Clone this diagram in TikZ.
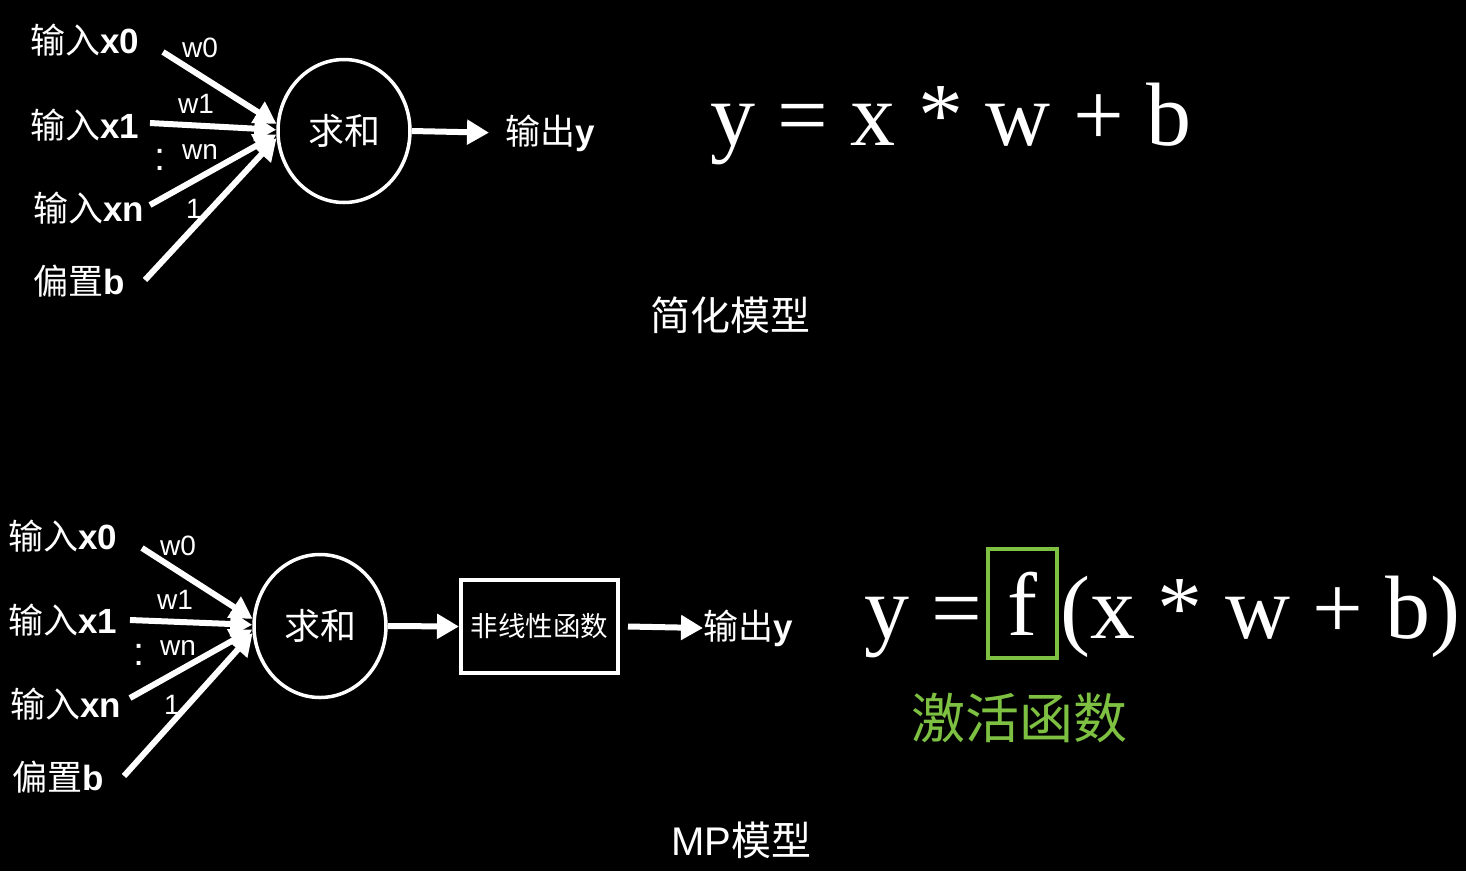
\documentclass[tikz,border=0pt]{standalone}
\usepackage{fontspec}
\setmainfont{Liberation Sans}
\newfontfamily\cjk{Noto Sans CJK SC}
\newfontfamily\tms{Liberation Serif}
\usetikzlibrary{arrows.meta,shapes.geometric}
\definecolor{actgreen}{RGB}{125,192,66}
\begin{document}
\begin{tikzpicture}[x=1pt,y=-1pt,
  lab/.style={text=white,font=\fontsize{35}{40}\selectfont,inner sep=0pt,anchor=west},
  wlab/.style={text=white,font=\fontsize{28}{34}\selectfont,inner sep=0pt},
  dotlab/.style={text=white,font=\fontsize{40}{44}\selectfont,inner sep=0pt},
  conn/.style={white,line width=6pt,-{Triangle[length=22pt,width=24pt]}},
  sumnode/.style={draw=white,line width=3.5pt,ellipse,inner sep=0pt,minimum width=132pt,minimum height=143pt,text=white,font=\cjk\fontsize{36}{40}\selectfont},
  funcbox/.style={draw=white,line width=4pt,inner sep=0pt,minimum width=157pt,minimum height=93pt,text=white,font=\cjk\fontsize{27.5}{32}\selectfont},
  formula/.style={text=white,font=\tms\fontsize{90}{100}\selectfont,inner sep=0pt,anchor=base west},
  caption/.style={text=white,font=\fontsize{40}{46}\selectfont,inner sep=0pt}]
\useasboundingbox[fill=black] (0,0) rectangle (1466,871);

% ---------- top: simplified model ----------
\node[lab] (a0) at (30,40) {{\cjk 输入}\textbf{x0}};
\node[lab] (a1) at (30,125) {{\cjk 输入}\textbf{x1}};
\node[lab] (an) at (33,208) {{\cjk 输入}\textbf{xn}};
\node[lab] (ab) at (33,281) {{\cjk 偏置}\textbf{b}};
\node[sumnode] (asum) at (344,131) {求和};
\coordinate (as0) at (163,52);
\coordinate (as1) at (150,123);
\coordinate (asn) at (150,205);
\coordinate (asb) at (145,280);
\draw[conn] (as0) -- (asum.174);
\draw[conn] (as1) -- (asum.179);
\draw[conn] (asn) -- (asum.183);
\draw[conn] (asb) -- (asum.186);
\node[wlab] (aw0) at (200,48) {w0};
\node[wlab] (aw1) at (196,104) {w1};
\node[wlab] (awn) at (200,152) {wn};
\node[wlab] (aw1b) at (194,209) {1};
\node[dotlab] (adots) at (160,160) {:};
\node[lab] (aout) at (505,133) {{\cjk 输出}\textbf{y}};
\draw[conn,shorten >=16pt] (asum.east) -- (aout.west);
\node[formula] (aform) at (710,145) {y = x * w + b};
\node[caption] (acap) at (730,315) {\cjk 简化模型};

% ---------- bottom: MP model ----------
\node[lab] (b0) at (8,536) {{\cjk 输入}\textbf{x0}};
\node[lab] (b1) at (8,620) {{\cjk 输入}\textbf{x1}};
\node[lab] (bn) at (10,704) {{\cjk 输入}\textbf{xn}};
\node[lab] (bb) at (12,777) {{\cjk 偏置}\textbf{b}};
\node[sumnode] (bsum) at (320,626) {求和};
\coordinate (bs0) at (142,548);
\coordinate (bs1) at (130,620);
\coordinate (bsn) at (130,698);
\coordinate (bsb) at (124,776);
\draw[conn] (bs0) -- (bsum.174);
\draw[conn] (bs1) -- (bsum.179);
\draw[conn] (bsn) -- (bsum.183);
\draw[conn] (bsb) -- (bsum.186);
\node[wlab] (bw0) at (178,546) {w0};
\node[wlab] (bw1) at (175,600) {w1};
\node[wlab] (bwn) at (178,648) {wn};
\node[wlab] (bw1b) at (172,705) {1};
\node[dotlab] (bdots) at (139,655) {:};
\node[funcbox] (bfunc) at (539.5,626.5) {非线性函数};
\node[lab] (bout) at (703,628) {{\cjk 输出}\textbf{y}};
\draw[conn] (bsum.east) -- (bfunc.west);
\coordinate (bfe) at ([xshift=8pt]bfunc.east);
\draw[conn] (bfe) -- (bout.west);
\node[formula] (bform1) at (864,638) {y =};
\node[draw=actgreen,line width=4pt,inner sep=0pt,minimum width=69pt,minimum height=109pt,text=white,font=\tms\fontsize{90}{100}\selectfont] (bf) at (1022.5,603.5) {f};
\node[formula] (bform2) at (1060,638) {(x * w + b)};
\node[text=actgreen,font=\cjk\fontsize{54}{60}\selectfont,inner sep=0pt] (bact) at (1019,718) {激活函数};
\node[caption] (bcap) at (741,840) {MP{\cjk 模型}};
\end{tikzpicture}
\end{document}
